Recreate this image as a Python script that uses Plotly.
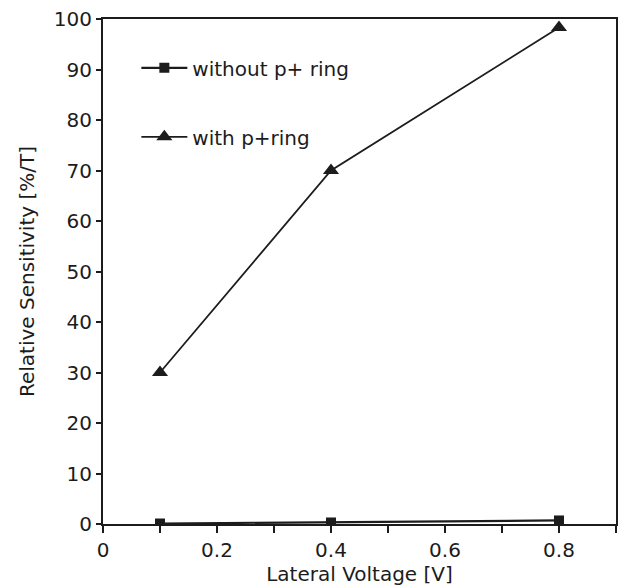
import plotly.graph_objects as go

voltage = [0.1, 0.4, 0.8]
without_ring = [0.1, 0.3, 0.7]
with_ring = [30, 70, 98.3]

x_ticks = [0, 0.2, 0.4, 0.6, 0.8]
x_ticklabels = ["0", "0.2", "0.4", "0.6", "0.8"]
y_ticks = list(range(0, 101, 10))

FONT = "DejaVu Sans"
INK = "#1c1c1c"
FS = 20

fig = go.Figure()
fig.add_trace(go.Scatter(
    x=voltage, y=without_ring, mode="lines+markers", name="without p+ ring",
    legendgroup="a",
    line=dict(color=INK, width=2.2),
    marker=dict(symbol="square", size=10, color=INK),
))
fig.add_trace(go.Scatter(
    x=voltage, y=with_ring, mode="lines+markers", name="with p+ring",
    legendgroup="b",
    line=dict(color=INK, width=1.8),
    marker=dict(symbol="triangle-up", size=14, color=INK),
))

fig.update_layout(
    width=625, height=588,
    margin=dict(l=103, r=7, t=18, b=64),
    paper_bgcolor="white", plot_bgcolor="white",
    font=dict(family=FONT, size=FS, color=INK),
    showlegend=True,
    legend=dict(x=0.065, y=0.942, xanchor="left", yanchor="top",
                bgcolor="rgba(0,0,0,0)", tracegroupgap=40, itemwidth=46,
                font=dict(family=FONT, size=FS, color=INK)),
    xaxis=dict(
        range=[0, 0.9], tickmode="array", tickvals=x_ticks, ticktext=x_ticklabels,
        ticks="outside", ticklen=7, tickwidth=1.5, tickcolor=INK,
        minor=dict(dtick=0.1, tick0=0, ticks="outside", ticklen=7, tickwidth=1.5, tickcolor=INK),
        showline=True, linecolor=INK, linewidth=2, mirror=True,
        showgrid=False, zeroline=False,
        title=dict(text="Lateral Voltage [V]", standoff=4, font=dict(family=FONT, size=FS)),
        tickfont=dict(family=FONT, size=FS),
    ),
    yaxis=dict(
        range=[0, 100], tickmode="array", tickvals=y_ticks,
        ticks="outside", ticklen=5, tickwidth=1.5, tickcolor=INK,
        showline=True, linecolor=INK, linewidth=2, mirror=True,
        showgrid=False, zeroline=False,
        title=dict(text="Relative Sensitivity [%/T]", standoff=14, font=dict(family=FONT, size=FS)),
        tickfont=dict(family=FONT, size=FS),
    ),
)

fig.write_html("out.html")
